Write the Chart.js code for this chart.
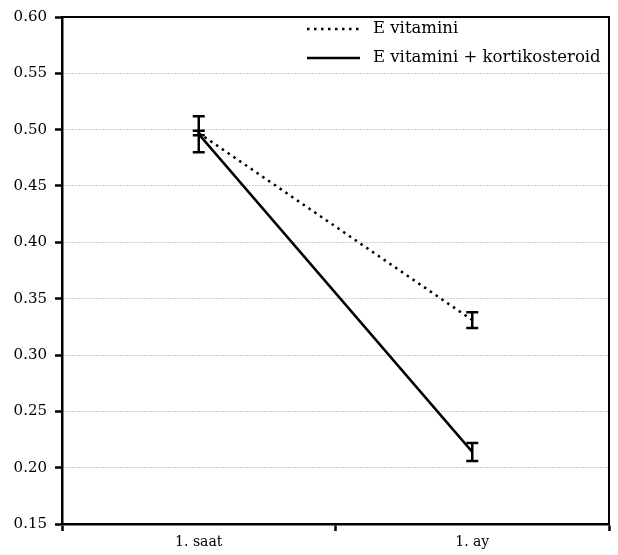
<!DOCTYPE html>
<html>
<head>
<meta charset="utf-8">
<script src="https://cdn.jsdelivr.net/npm/chart.js@4/dist/chart.umd.min.js"></script>
<style>
  html, body { margin: 0; padding: 0; background: #fff; }
  #wrap { width: 618px; height: 555px; }
</style>
</head>
<body>
<div id="wrap"><canvas id="chart"></canvas></div>
<script>
// data
var categories = ['1. saat', '1. ay'];
var seriesNames = ['E vitamini', 'E vitamini + kortikosteroid'];
var vitE = [0.497, 0.331];
var vitEErr = [0.002, 0.007];
var vitEKort = [0.496, 0.214];
var vitEKortErr = [0.016, 0.008];
var yTicks = [0.15, 0.20, 0.25, 0.30, 0.35, 0.40, 0.45, 0.50, 0.55, 0.60];

var FONT = 'DejaVu Serif';

// error bars drawn through the y scale
var errorBars = {
  id: 'errorBars',
  afterDatasetsDraw: function(chart) {
    var ctx = chart.ctx;
    var ys = chart.scales.y;
    chart.data.datasets.forEach(function(ds, i) {
      var meta = chart.getDatasetMeta(i);
      meta.data.forEach(function(pt, j) {
        var v = ds.data[j], e = ds.errors[j];
        var top = ys.getPixelForValue(v + e);
        var bot = ys.getPixelForValue(v - e);
        ctx.save();
        ctx.strokeStyle = '#000';
        ctx.lineWidth = 2.5;
        ctx.beginPath();
        ctx.moveTo(pt.x, top); ctx.lineTo(pt.x, bot);
        ctx.moveTo(pt.x - 6, top); ctx.lineTo(pt.x + 6, top);
        ctx.moveTo(pt.x - 6, bot); ctx.lineTo(pt.x + 6, bot);
        ctx.stroke();
        ctx.restore();
      });
    });
  }
};

// frame around plot + legend inside top right
var frameLegend = {
  id: 'frameLegend',
  afterDraw: function(chart) {
    var ctx = chart.ctx, a = chart.chartArea;
    ctx.save();
    ctx.strokeStyle = '#000';
    ctx.lineWidth = 2;
    ctx.beginPath();
    ctx.moveTo(a.left, a.top); ctx.lineTo(a.right, a.top); ctx.lineTo(a.right, a.bottom);
    ctx.stroke();

    var rows = [29, 58];
    chart.data.datasets.forEach(function(ds, i) {
      ctx.setLineDash(ds.borderDash || []);
      ctx.lineWidth = 2.5;
      ctx.beginPath();
      ctx.moveTo(307, rows[i]); ctx.lineTo(360, rows[i]);
      ctx.stroke();
      ctx.setLineDash([]);
      ctx.fillStyle = '#000';
      ctx.font = '16.5px "' + FONT + '"';
      ctx.textBaseline = 'middle';
      ctx.textAlign = 'left';
      ctx.fillText(ds.label, 373, rows[i]);
    });
    ctx.restore();
  }
};

new Chart(document.getElementById('chart'), {
  type: 'line',
  data: {
    labels: categories,
    datasets: [
      {
        label: seriesNames[0],
        data: vitE,
        errors: vitEErr,
        borderColor: '#000',
        borderWidth: 2.5,
        borderDash: [2.5, 4.5],
        pointRadius: 0,
        tension: 0,
        fill: false
      },
      {
        label: seriesNames[1],
        data: vitEKort,
        errors: vitEKortErr,
        borderColor: '#000',
        borderWidth: 2.5,
        pointRadius: 0,
        tension: 0,
        fill: false
      }
    ]
  },
  options: {
    responsive: true,
    maintainAspectRatio: false,
    animation: false,
    layout: { padding: { top: 14, right: 9, left: 0, bottom: 0 } },
    plugins: {
      legend: { display: false },
      tooltip: { enabled: false }
    },
    scales: {
      x: {
        type: 'category',
        offset: true,
        grid: {
          offset: true,
          drawOnChartArea: false,
          tickLength: 7,
          tickColor: '#000',
          tickWidth: 2.5
        },
        border: { color: '#000', width: 2.5 },
        ticks: { color: '#000', font: { family: FONT, size: 14 }, padding: 3 },
        afterFit: function(s) { s.height = 31; }
      },
      y: {
        min: 0.15,
        max: 0.60,
        afterBuildTicks: function(s) { s.ticks = yTicks.map(function(v) { return { value: v }; }); },
        grid: {
          color: '#999',
          lineWidth: 1,
          tickLength: 7,
          tickColor: '#000',
          tickWidth: 2.5,
          tickBorderDash: []
        },
        border: { color: '#000', width: 2.5, dash: [1, 2] },
        ticks: {
          color: '#000',
          font: { family: FONT, size: 15 },
          padding: 8,
          callback: function(v) { return Number(v).toFixed(2); }
        },
        afterFit: function(s) { s.width = 62; }
      }
    }
  },
  plugins: [errorBars, frameLegend]
});
</script>
</body>
</html>
